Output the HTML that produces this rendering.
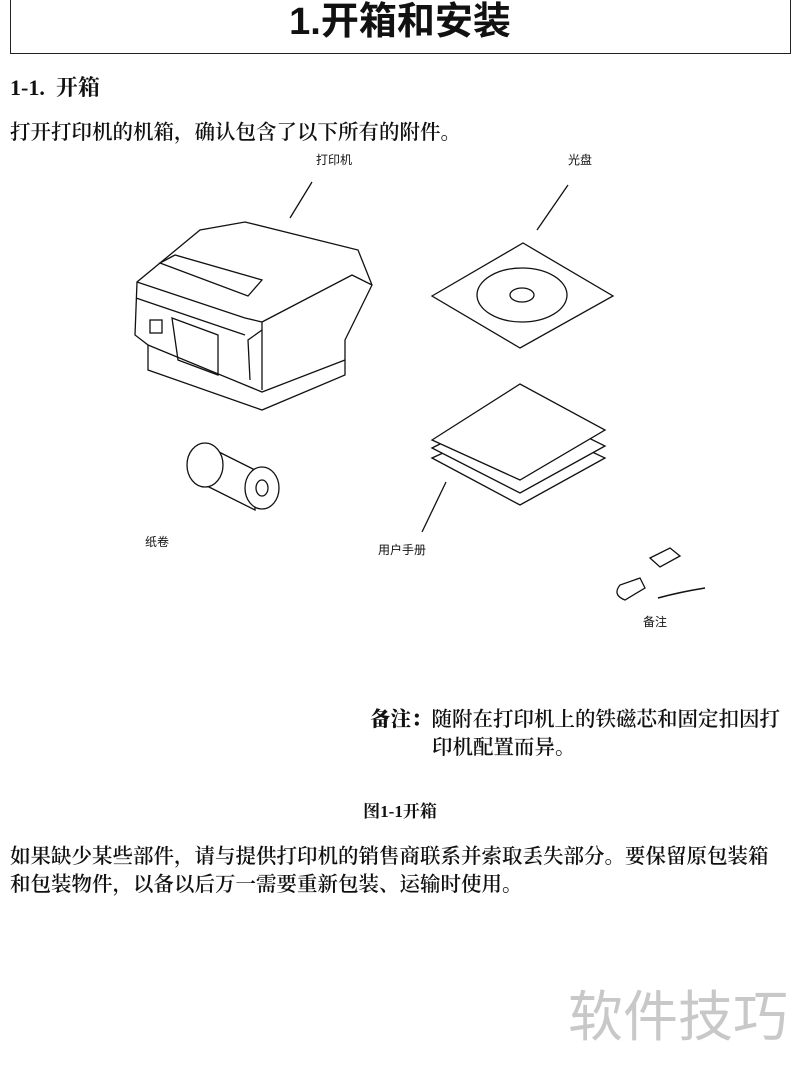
<!DOCTYPE html>
<html><head><meta charset="utf-8"><style>
body{margin:0;width:800px;height:1067px;background:#fff;position:relative;overflow:hidden;font-family:"Liberation Serif","Noto Serif CJK SC",serif;color:#111}
.a{position:absolute;white-space:nowrap}
.s{font-family:"Liberation Sans","Noto Sans CJK SC",sans-serif;font-size:12px}
</style></head><body>
<div class="a" style="left:10px;top:0;width:779px;height:53px;border:1.5px solid #222;border-top:none"></div>
<div class="a" style="left:0;width:800px;top:0;text-align:center;font-family:'Liberation Sans','Noto Sans CJK SC',sans-serif;font-weight:bold;font-size:38px;line-height:44px">1.开箱和安装</div>
<div class="a" style="left:10px;top:71px;font-size:22px;font-weight:bold">1-1.&nbsp;&nbsp;开箱</div>
<div class="a" style="left:10px;top:115px;font-size:20.5px;font-weight:600">打开打印机的机箱，确认包含了以下所有的附件。</div>
<div class="a s" style="left:316px;top:151px">打印机</div>
<div class="a s" style="left:568px;top:151px">光盘</div>
<div class="a s" style="left:145px;top:533px">纸卷</div>
<div class="a s" style="left:378px;top:541px">用户手册</div>
<div class="a s" style="left:643px;top:613px">备注</div>
<svg class="a" style="left:0;top:0" width="800" height="700" fill="none" stroke="#111" stroke-width="1.3">
<line x1="290" y1="218" x2="312" y2="182"/>
<line x1="537" y1="230" x2="568" y2="185"/>
<line x1="422" y1="532" x2="446" y2="482"/>
<path d="M137 282 L135 335 L148 345 L148 370 L262 410 L345 375 L345 340 L372 285 L358 250 L245 222 L200 230 Z" fill="#fff"/>
<path d="M137 282 L245 318 L262 322 L352 275 L372 285 M262 322 L262 390 M148 345 L262 392 L345 360"/>
<path d="M160 263 L175 255 L262 280 L248 296 Z" fill="#fff"/>
<path d="M136 298 L245 335 M262 330 L248 340 L250 380"/>
<rect x="150" y="320" width="12" height="13"/>
<path d="M172 318 L218 335 L218 375 L178 360 Z"/>
<path d="M432 296 L523 243 L613 296 L520 348 Z" fill="#fff"/>
<ellipse cx="522" cy="295" rx="45" ry="27"/>
<ellipse cx="522" cy="295" rx="12" ry="7"/>
<path d="M432 458 L520 418 L605 458 L520 505 Z" fill="#fff"/>
<path d="M432 448 L520 404 L605 446 L520 493 Z" fill="#fff"/>
<path d="M432 440 L520 384 L605 430 L520 480 Z" fill="#fff"/>
<path d="M205 445 L255 470 L255 510 L205 485" fill="#fff"/>
<ellipse cx="205" cy="465" rx="18" ry="22" fill="#fff"/>
<ellipse cx="262" cy="488" rx="17" ry="21" fill="#fff"/>
<ellipse cx="262" cy="488" rx="6" ry="8"/>
<path d="M650 558 L670 548 L680 556 L660 567 Z" fill="#fff"/>
<path d="M620 585 Q612 595 625 600 L645 588 L640 578 Z" fill="#fff"/>
<path d="M658 598 Q680 592 705 588" stroke-width="1.6"/>
</svg>
<div class="a" style="left:370px;top:706px;font-size:20.5px;line-height:28px;font-weight:600"><b>备注：</b>随附在打印机上的铁磁芯和固定扣因打<br><span style="padding-left:62px">印机配置而异。</span></div>
<div class="a" style="left:0;width:800px;top:797px;text-align:center;font-size:17px;font-weight:bold">图1-1开箱</div>
<div class="a" style="left:10px;top:843px;font-size:20.5px;line-height:28px;font-weight:600">如果缺少某些部件，请与提供打印机的销售商联系并索取丢失部分。要保留原包装箱<br>和包装物件，以备以后万一需要重新包装、运输时使用。</div>
<div class="a" style="left:568px;top:972px;font-family:'Liberation Sans','Noto Sans CJK SC',sans-serif;font-size:55px;color:#c8c8c8">软件技巧</div>
</body></html>
